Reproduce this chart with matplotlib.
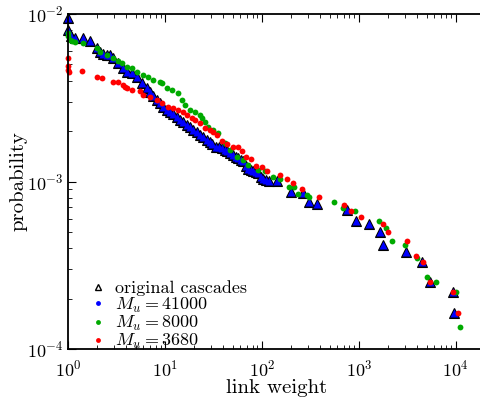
import matplotlib
matplotlib.use('Agg')
import matplotlib.pyplot as plt
from matplotlib.lines import Line2D

# values (link weight, probability)
orig_x = [1.0, 1.0, 1.07, 1.18, 1.43, 1.69, 2.0, 2.14, 2.30, 2.52, 2.71, 2.91, 3.28, 3.69,
          4.06, 4.57, 5.14, 5.79, 6.52, 7.0, 7.52, 8.27, 8.88, 9.53, 10.5, 11.3, 12.1, 13.3,
          14.3, 15.3, 16.9, 18.1, 19.4, 21.4, 22.9, 24.6, 27.1, 29.1, 30.5, 33.6, 36.0, 38.7,
          41.6, 43.6, 46.8, 50.2, 54.0, 56.6, 60.8, 63.7, 68.4, 71.7, 77.1, 80.8, 86.7, 90.9,
          97.7, 102, 110, 118, 143, 199, 265, 305, 369, 752, 931, 1270, 1650, 1770, 3060,
          4460, 5400, 9310, 9530]
orig_y = [0.00946, 0.00803, 0.00739, 0.00719, 0.00719, 0.00690, 0.00627, 0.00593, 0.00577,
          0.00569, 0.00569, 0.00546, 0.00509, 0.00476, 0.00451, 0.00445, 0.00421, 0.00387,
          0.00361, 0.00342, 0.00324, 0.00307, 0.00294, 0.00279, 0.00267, 0.00260, 0.00253,
          0.00243, 0.00233, 0.00226, 0.00217, 0.00211, 0.00203, 0.00198, 0.00190, 0.00185,
          0.00177, 0.00172, 0.00168, 0.00161, 0.00161, 0.00158, 0.00154, 0.00152, 0.00148,
          0.00144, 0.00140, 0.00138, 0.00134, 0.00132, 0.00124, 0.00119, 0.00117, 0.00116,
          0.00114, 0.00112, 0.00106, 0.00104, 0.00102, 0.00101, 0.00101, 0.00087, 0.00085,
          0.00075, 0.00073, 0.00068, 0.00058, 0.00056, 0.00050, 0.00042, 0.00038, 0.00033,
          0.00025, 0.000219, 0.000164]

# M_u = 41000 sits on top of the original cascades
m41000_x = list(orig_x)
m41000_y = list(orig_y)

m8000_x = [1.0, 1.0, 1.05, 1.10, 1.18, 1.43, 2.0, 2.14, 2.52, 2.91, 3.28, 3.60, 4.06, 4.57,
           5.14, 5.93, 6.68, 7.52, 8.88, 9.31, 10.5, 11.8, 13.6, 15.0, 16.1, 18.1, 20.4, 22.9,
           24.1, 25.8, 27.7, 31.3, 35.2, 41.6, 46.8, 55.2, 63.7, 71.7, 90.9, 107, 130, 153,
           190, 214, 235, 291, 305, 552, 684, 909, 1610, 1900, 2190, 2980, 3960, 5020, 6220,
           10000, 11000]
m8000_y = [0.00770, 0.00739, 0.00700, 0.00690, 0.00681, 0.00672, 0.00627, 0.00593, 0.00569,
           0.00546, 0.00524, 0.00509, 0.00483, 0.00476, 0.00451, 0.00433, 0.00421, 0.00404,
           0.00393, 0.00387, 0.00361, 0.00352, 0.00338, 0.00307, 0.00286, 0.00267, 0.00260,
           0.00249, 0.00239, 0.00226, 0.00211, 0.00203, 0.00195, 0.00170, 0.00154, 0.00140,
           0.00134, 0.00126, 0.00117, 0.00116, 0.00106, 0.00104, 0.00093, 0.00093, 0.00084,
           0.00083, 0.00081, 0.00075, 0.00069, 0.00067, 0.00058, 0.00053, 0.00044, 0.00042,
           0.00035, 0.00027, 0.00025, 0.000219, 0.000135]

m3680_x = [1.0, 1.0, 1.01, 1.02, 1.39, 2.0, 2.24, 2.91, 3.28, 3.69, 3.87, 4.06, 4.57, 5.52,
           5.93, 7.0, 8.27, 9.31, 10.7, 12.1, 13.6, 15.3, 16.9, 19.0, 20.4, 22.9, 25.8, 29.1,
           31.3, 34.4, 38.7, 43.6, 50.2, 56.6, 62.2, 68.4, 77.1, 86.7, 100, 113, 153, 181, 209,
           258, 387, 700, 827, 1050, 1770, 1990, 3130, 3870, 4570, 5400, 9310, 10500]
m3680_y = [0.00546, 0.00490, 0.00463, 0.00451, 0.00457, 0.00421, 0.00415, 0.00393, 0.00393,
           0.00377, 0.00366, 0.00361, 0.00352, 0.00347, 0.00328, 0.00319, 0.00307, 0.00294,
           0.00279, 0.00275, 0.00267, 0.00260, 0.00249, 0.00239, 0.00233, 0.00223, 0.00208,
           0.00203, 0.00198, 0.00190, 0.00175, 0.00168, 0.00161, 0.00161, 0.00152, 0.00140,
           0.00136, 0.00124, 0.00122, 0.00116, 0.00109, 0.00104, 0.00098, 0.00090, 0.00081,
           0.00072, 0.00067, 0.00061, 0.00056, 0.00050, 0.00044, 0.00036, 0.00033, 0.00025,
           0.000219, 0.000164]

labels = ['original cascades', r'$M_u = 41000$', r'$M_u = 8000$', r'$M_u = 3680$']

plt.rcParams['font.family'] = 'serif'
plt.rcParams['font.serif'] = ['cmr10']
plt.rcParams['mathtext.fontset'] = 'cm'
plt.rcParams['axes.formatter.use_mathtext'] = True

fig = plt.figure(figsize=(4.8, 4.04), dpi=100)
ax = fig.add_axes([68 / 480, 55 / 404, 417 / 480, 335 / 404])

ax.plot(orig_x, orig_y, '^', ms=7.5, mfc='black', mec='black', mew=0.8, ls='none', clip_on=False)
ax.plot(m41000_x, m41000_y, '^', ms=5.4, mfc='#0000ff', mec='none', ls='none', clip_on=False)
ax.plot(m8000_x, m8000_y, 'o', ms=4.2, mfc='#00aa00', mec='none', ls='none', clip_on=False)
ax.plot(m3680_x, m3680_y, 'o', ms=4.2, mfc='#ff0000', mec='none', ls='none', clip_on=False)

ax.set_xscale('log')
ax.set_yscale('log')
ax.set_xlim(1, 2e4)
ax.set_ylim(1e-4, 1e-2)

ax.tick_params(which='both', direction='in', top=True, right=False, labelsize=13)
ax.tick_params(which='major', length=6, width=0.8)
ax.tick_params(which='minor', length=3, width=0.6)
ax.tick_params(axis='x', which='major', pad=7)
for s in ['left', 'bottom', 'top']:
    ax.spines[s].set_linewidth(1.3)

ax.set_xlabel('link weight', fontsize=15, labelpad=0)
ax.set_ylabel('probability', fontsize=15, labelpad=-1)

handles = [
    Line2D([], [], ls='none', marker='^', ms=5, mfc='white', mec='black', mew=1.0),
    Line2D([], [], ls='none', marker='o', ms=3.5, mfc='#0000ff', mec='none'),
    Line2D([], [], ls='none', marker='o', ms=3.5, mfc='#00aa00', mec='none'),
    Line2D([], [], ls='none', marker='o', ms=3.5, mfc='#ff0000', mec='none'),
]
ax.legend(handles, labels, loc='lower left', bbox_to_anchor=(0.02, -0.045), frameon=False,
          fontsize=13, handlelength=1.0, handletextpad=0.45, labelspacing=-0.04,
          borderaxespad=0.3)

fig.savefig('out.png', dpi=100)
